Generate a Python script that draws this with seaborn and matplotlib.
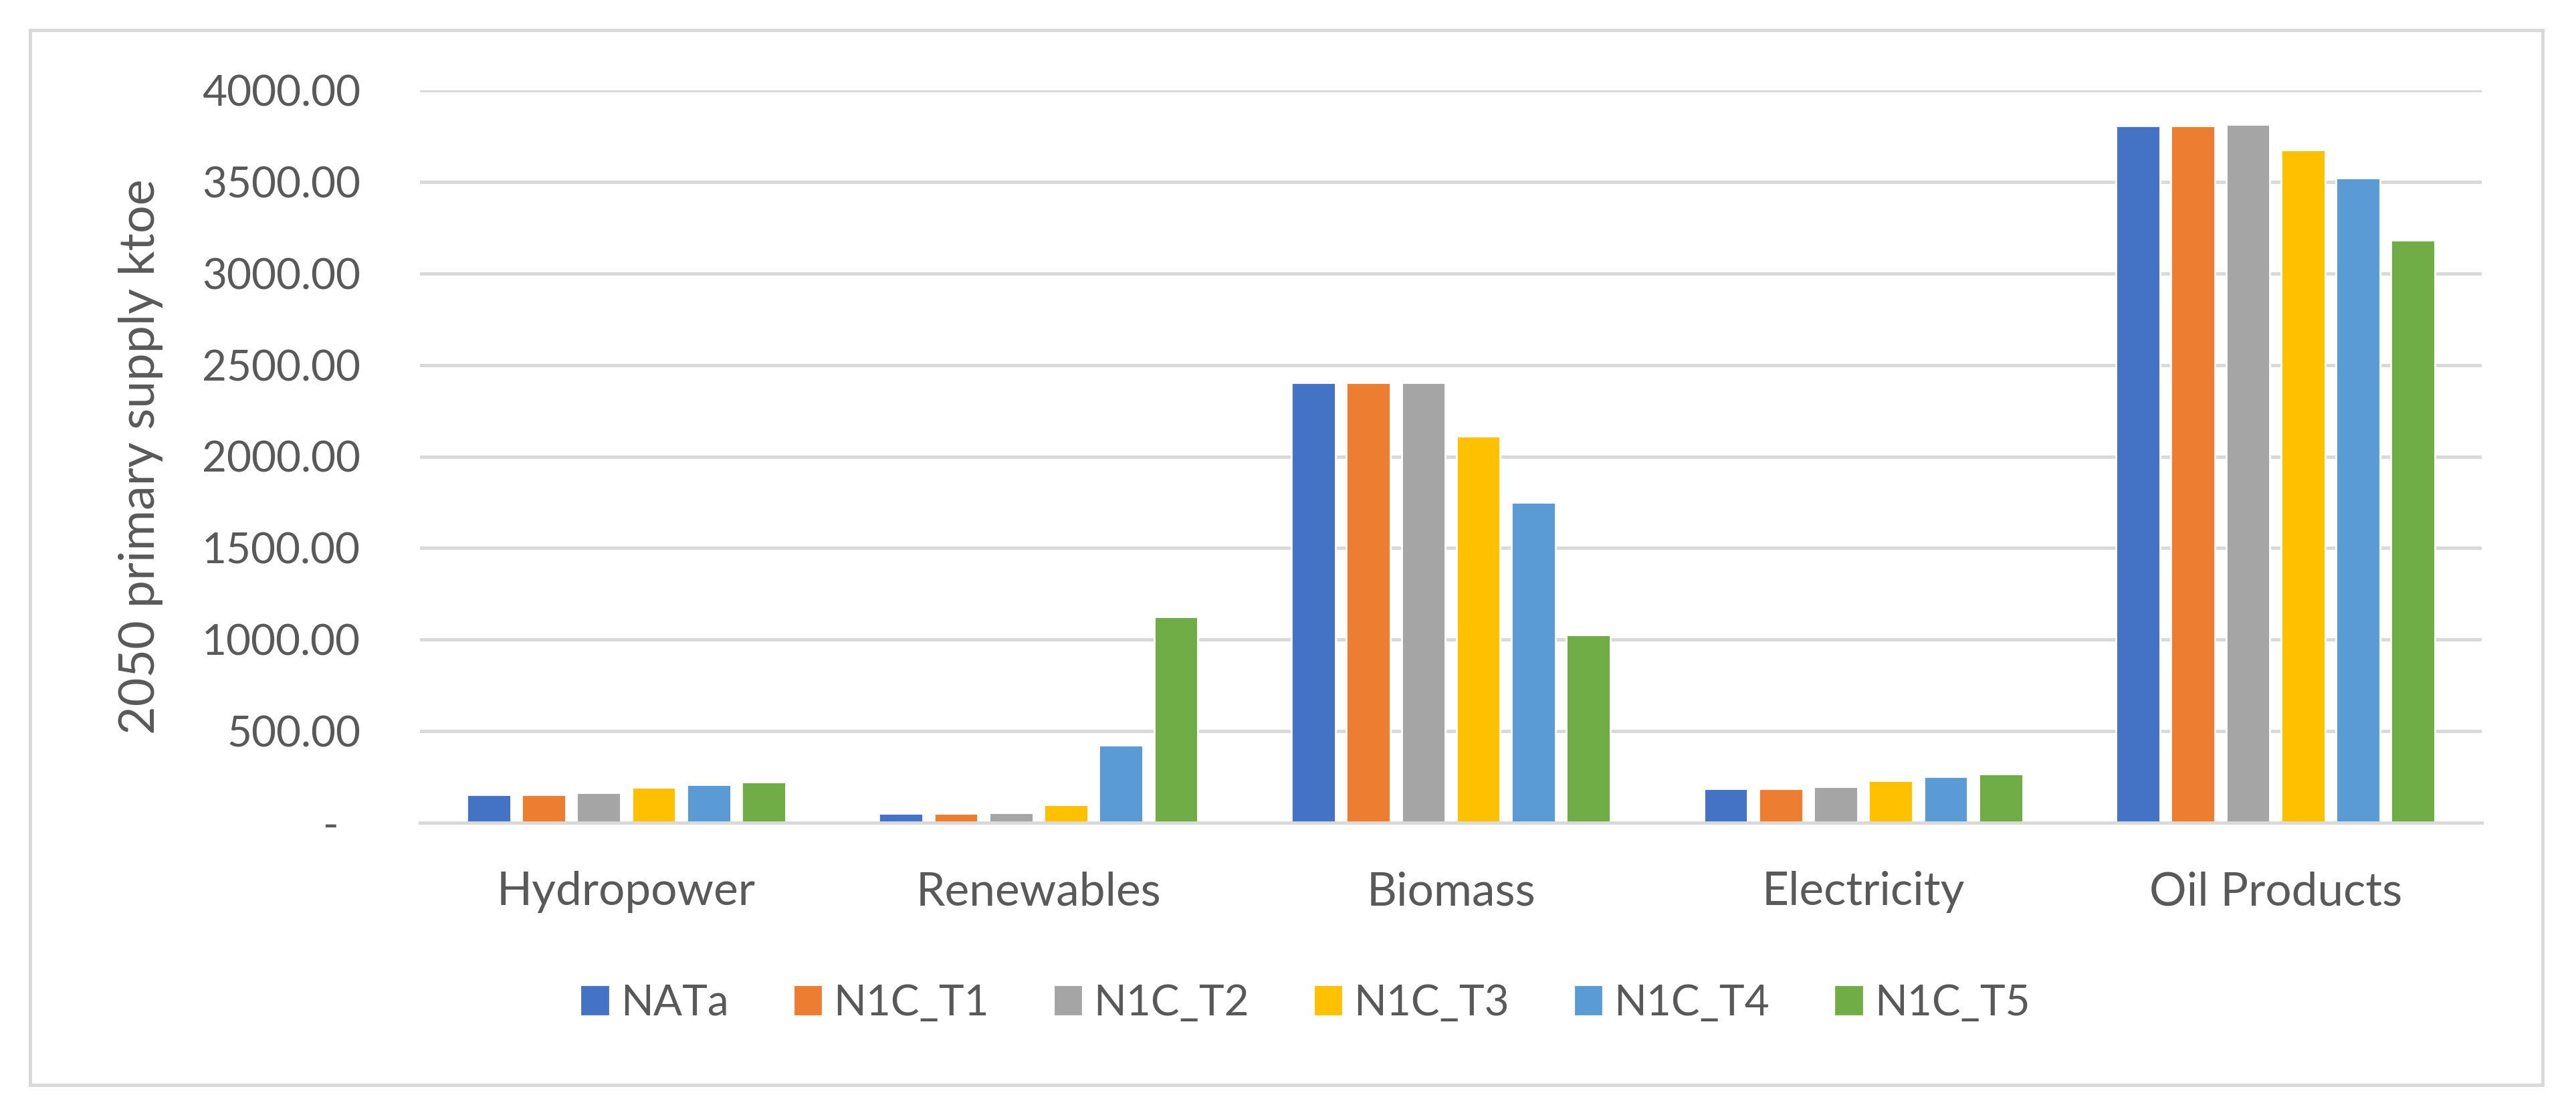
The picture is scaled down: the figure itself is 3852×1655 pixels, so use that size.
import pandas as pd
import seaborn as sns
import matplotlib.pyplot as plt
from matplotlib.patches import Rectangle

categories = ['Hydropower', 'Renewables', 'Biomass', 'Electricity', 'Oil Products']
scenarios = ['NATa', 'N1C_T1', 'N1C_T2', 'N1C_T3', 'N1C_T4', 'N1C_T5']

# 2050 primary supply (ktoe) per scenario, in category order
nata = [155, 50, 2405, 187, 3805]
n1c_t1 = [155, 50, 2405, 187, 3805]
n1c_t2 = [165, 55, 2405, 197, 3815]
n1c_t3 = [195, 100, 2110, 230, 3675]
n1c_t4 = [209, 425, 1750, 252, 3520]
n1c_t5 = [224, 1125, 1025, 266, 3180]

yticks = [0, 500, 1000, 1500, 2000, 2500, 3000, 3500, 4000]

colors = ['#4472C4', '#ED7D31', '#A5A5A5', '#FFC000', '#5B9BD5', '#70AD47']
text_col = '#595959'
grid_col = '#D9D9D9'

series = [nata, n1c_t1, n1c_t2, n1c_t3, n1c_t4, n1c_t5]
rows = []
for name, vals in zip(scenarios, series):
    for cat, v in zip(categories, vals):
        rows.append({'category': cat, 'scenario': name, 'value': v})
df = pd.DataFrame(rows)

sns.set_style('white')
plt.rcParams['font.family'] = ['Lato', 'DejaVu Sans']

W, H = 3852, 1655
dpi = 200
fig = plt.figure(figsize=(W / dpi, H / dpi), dpi=dpi)
ax = fig.add_axes([628 / W, 1 - 1230 / H, (3711 - 628) / W, (1230 - 135) / H])

sns.barplot(data=df, x='category', y='value', hue='scenario',
            order=categories, hue_order=scenarios, palette=colors,
            width=0.8, gap=0.2, saturation=1, ax=ax, legend=False)

ax.set_ylim(0, 4000)
ax.set_yticks(yticks)
ax.set_yticklabels(['-  '] + [f'{t:.2f}' for t in yticks[1:]])
ax.yaxis.grid(True, color=grid_col, linewidth=1.8)
ax.set_axisbelow(True)
for s in ['top', 'right', 'left']:
    ax.spines[s].set_visible(False)
ax.spines['bottom'].set_color(grid_col)
ax.spines['bottom'].set_linewidth(1.8)

ax.tick_params(axis='y', length=0, pad=32, labelsize=23, labelcolor=text_col)
ax.tick_params(axis='x', length=0, pad=26, labelsize=25, labelcolor=text_col)
ax.set_xlabel('')
ax.set_ylabel('2050 primary supply ktoe', fontsize=26.5, color=text_col, labelpad=21)

handles = [Rectangle((0, 0), 1, 1, color=c) for c in colors]
fig.legend(handles, scenarios, loc='center', bbox_to_anchor=(0.507, 1 - 1500 / H),
           ncol=6, frameon=False, fontsize=23, labelcolor=text_col,
           handlelength=0.6, handleheight=0.6, handletextpad=0.3, columnspacing=1.55)

fig.patches.append(Rectangle((45 / W, 1 - 1622 / H), (3802 - 45) / W, (1622 - 45) / H,
                             transform=fig.transFigure, fill=False,
                             edgecolor=grid_col, linewidth=1.8))

fig.savefig('out.png', dpi=dpi, facecolor='white')
